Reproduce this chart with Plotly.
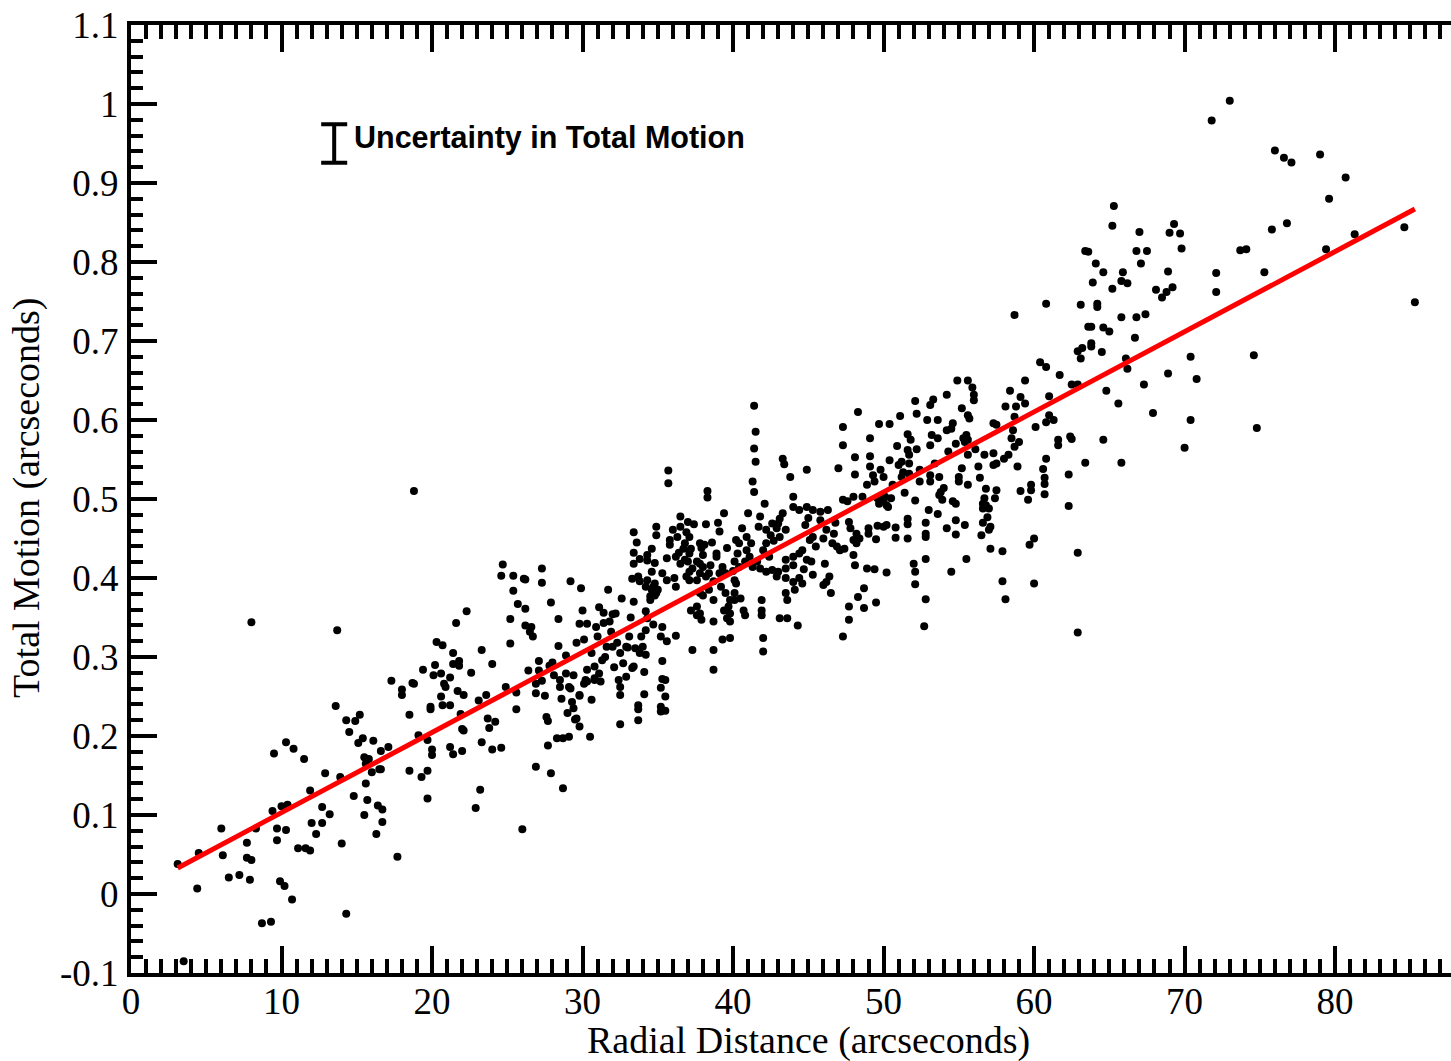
import plotly.graph_objects as go

# ---- data (arcseconds) ----
radial_a = [8.0, 13.7, 17.3, 13.6, 14.3, 14.9, 15.2, 14.5, 15.1, 15.4, 16.1, 16.6, 17.1, 15.5, 15.8, 15.6, 16.0, 16.5, 16.6,
            15.6, 17.7, 14.8, 15.7, 16.4, 16.7, 16.7, 16.3, 15.5, 14.0, 14.3, 13.9, 12.9, 11.9, 12.7, 13.2, 12.7, 12.0, 12.3,
            11.1, 11.6, 11.9, 9.5, 10.3, 10.8, 11.5, 9.4, 10.0, 10.4, 9.7, 10.3, 9.7, 8.3, 9.9, 10.2, 10.7, 8.7, 9.3, 6.0,
            7.7, 6.1, 7.7, 8.0, 6.5, 7.2, 7.9, 4.5, 3.1, 4.4, 3.5]
motion_a = [0.344, 0.334, 0.270, 0.238, 0.220, 0.219, 0.227, 0.205, 0.191, 0.197, 0.194, 0.181, 0.186, 0.173, 0.171, 0.165, 0.154, 0.158, 0.158,
            0.140, 0.047, 0.124, 0.119, 0.112, 0.107, 0.091, 0.076, 0.100, 0.064, -0.025, 0.148, 0.153, 0.131, 0.110, 0.101, 0.090, 0.090, 0.076,
            0.058, 0.058, 0.055, 0.178, 0.192, 0.184, 0.171, 0.105, 0.111, 0.113, 0.083, 0.081, 0.068, 0.083, 0.016, 0.010, -0.007, -0.037, -0.035, 0.083,
            0.065, 0.049, 0.046, 0.043, 0.021, 0.024, 0.018, 0.052, 0.038, 0.007, -0.085]

radial_b = [18.8, 24.7, 24.6, 25.4, 26.1, 26.2, 27.3, 27.3, 25.4, 25.7, 26.2, 25.2, 26.2, 26.6, 26.5, 26.7, 25.2, 27.9, 29.2, 29.9, 31.7,
            28.4, 30.0, 29.8, 30.3, 31.1, 31.4, 32.0, 32.2, 31.4, 31.8, 32.6,
            33.4, 33.4, 33.8, 34.3, 34.6, 34.3, 33.4, 34.9, 34.9, 34.8,
            33.3, 33.7, 34.3, 33.8, 34.2, 34.7, 34.8, 34.5, 34.9,
            33.2, 34.2, 34.7, 34.2, 33.9, 33.1, 33.5, 33.8, 34.2, 33.0, 32.5, 32.0, 31.6, 31.0, 30.6, 30.1,
            30.3, 30.8, 31.1, 31.2, 30.8, 30.3, 29.4, 28.9, 28.5, 29.2, 29.8, 30.6,
            32.4, 32.5, 32.5, 32.9, 33.3, 34.1, 34.1, 33.7, 33.7, 33.7, 32.5,
            28.6, 29.3, 29.4, 29.6, 29.8, 29.5, 30.5, 29.1, 28.7, 28.3, 27.7, 27.6, 27.7,
            26.9, 27.9, 28.7, 22.9, 23.2,
            27.1, 27.1, 27.8, 28.1, 27.3, 26.9, 26.9, 28.9, 28.4, 29.1, 28.5, 29.8, 30.1, 30.2, 30.8,
            25.6, 25.6, 24.0, 23.3, 23.6, 23.7, 23.8, 24.2, 23.3, 24.0, 24.6, 22.3, 21.6, 20.3, 20.7, 21.4, 21.8, 21.8, 21.4,
            22.6, 21.2, 20.6, 20.1, 20.2, 19.4, 18.7, 18.0, 18.0, 18.5, 19.9, 19.9, 20.6, 20.7, 21.2, 21.7, 22.1, 20.8, 22.0,
            22.1, 19.7, 20.0, 20.0, 21.2, 21.4, 22.0, 18.5, 19.3, 19.7, 19.7, 26.0, 18.8,
            35.2, 35.5, 35.2, 35.5, 35.2, 35.3, 35.5, 35.3,
            34.6, 35.0, 34.8, 34.5, 33.4, 34.3, 32.9, 34.0, 32.7, 33.4,
            31.9, 32.3, 30.9, 31.5, 29.6, 28.0, 26.4, 24.9, 23.1, 21.9, 20.9, 19.1, 33.6, 34.6, 32.1, 31.3, 29.0, 27.5]
motion_b = [0.510, 0.417, 0.403, 0.403, 0.399, 0.398, 0.412, 0.394, 0.384, 0.367, 0.361, 0.348, 0.340, 0.338, 0.332, 0.326, 0.317, 0.369, 0.396, 0.387, 0.385,
            0.348, 0.359, 0.342, 0.342, 0.363, 0.356, 0.354, 0.355, 0.343, 0.345, 0.374,
            0.458, 0.432, 0.424, 0.429, 0.437, 0.422, 0.418, 0.465, 0.454, 0.419,
            0.399, 0.402, 0.397, 0.396, 0.389, 0.389, 0.378, 0.372, 0.381,
            0.350, 0.358, 0.341, 0.334, 0.326, 0.326, 0.311, 0.305, 0.303, 0.312, 0.305, 0.313, 0.313, 0.326, 0.305, 0.322,
            0.284, 0.288, 0.279, 0.269, 0.271, 0.269, 0.277, 0.279, 0.271, 0.260, 0.252, 0.246,
            0.271, 0.262, 0.252, 0.275, 0.286, 0.281, 0.253, 0.239, 0.234, 0.220, 0.215,
            0.247, 0.243, 0.235, 0.222, 0.212, 0.221, 0.199, 0.199, 0.197, 0.197, 0.188, 0.224, 0.219,
            0.161, 0.153, 0.134, 0.109, 0.132,
            0.295, 0.283, 0.289, 0.277, 0.270, 0.266, 0.254, 0.302, 0.314, 0.262, 0.262, 0.251, 0.266, 0.271, 0.273,
            0.255, 0.234, 0.291, 0.309, 0.252, 0.222, 0.210, 0.218, 0.192, 0.183, 0.185, 0.358, 0.343, 0.319, 0.315, 0.305, 0.295, 0.289, 0.291,
            0.280, 0.274, 0.279, 0.277, 0.290, 0.284, 0.267, 0.259, 0.252, 0.227, 0.237, 0.234, 0.250, 0.239, 0.239, 0.257, 0.252, 0.266, 0.209,
            0.207, 0.195, 0.183, 0.176, 0.186, 0.177, 0.181, 0.156, 0.148, 0.156, 0.121, 0.082, 0.266,
            0.231, 0.232, 0.237, 0.250, 0.261, 0.272, 0.271, 0.295,
            0.385, 0.385, 0.393, 0.377, 0.370, 0.349, 0.313, 0.313, 0.292, 0.288,
            0.332, 0.318, 0.338, 0.300, 0.318, 0.293, 0.283, 0.262, 0.245, 0.228, 0.262, 0.201, 0.445, 0.408, 0.287, 0.296, 0.229, 0.251]

radial_c = [41.4, 41.5, 41.4, 41.5, 41.3, 41.4, 35.7, 35.7, 38.3, 38.3, 43.3, 43.4, 43.8, 44.9, 47.0, 47.3, 47.3, 48.1, 48.3, 48.1,
            36.5, 37.0, 37.4, 38.2, 39.0, 39.4, 39.1, 36.5,
            35.8, 35.8, 36.3, 36.8, 37.1, 36.7, 37.2, 37.8, 38.1, 37.9,
            35.6, 36.2, 36.5, 36.8, 37.1, 37.0, 37.6, 38.0, 37.8, 38.9, 38.9, 38.5, 38.0, 37.3, 39.3, 39.5, 39.1, 38.4, 37.8, 37.1,
            36.9, 37.6, 37.1, 38.2, 38.7,
            35.3, 36.1, 35.6, 36.2, 37.8, 38.0, 38.4, 38.7, 37.6, 37.8, 37.9, 37.6, 38.7, 37.2, 37.3, 38.7, 38.7, 39.3, 39.8, 39.5,
            39.8, 39.7, 39.4, 39.8, 39.6, 39.8, 40.1, 40.1, 40.5, 40.7, 40.8, 40.2, 40.1,
            40.2, 40.4, 40.9, 41.2, 40.9, 40.3, 41.1, 40.8, 40.1, 40.4, 41.3, 41.6, 41.8, 42.2, 42.6, 42.4, 42.0, 42.2, 41.7, 41.0,
            42.2, 42.6, 43.0, 43.1, 43.3, 42.9, 42.5, 43.1, 43.5,
            42.1, 44.0, 44.4, 44.9, 45.3, 45.8, 46.3, 44.0, 44.8, 45.3, 45.8, 46.2, 46.7, 47.3, 47.6, 48.0, 47.7, 47.8, 48.2, 48.4,
            48.0, 47.1, 47.4, 46.6, 46.9, 46.0, 45.5, 45.1, 44.6, 44.4, 44.9, 45.2, 44.0, 43.5, 44.0, 43.5, 43.0, 42.9, 43.5, 44.0,
            44.4, 44.6, 45.3, 46.0, 46.4, 46.5, 46.2, 43.5, 43.6, 44.1, 43.1, 43.6, 44.3, 41.9, 41.9, 41.9, 42.0, 42.0, 47.7, 47.7,
            47.3, 48.3, 48.1, 48.0, 48.2, 35.3, 35.2, 35.6, 36.2,
            36.0, 36.9, 39.6, 40.6, 41.8, 42.7, 45.0, 46.8, 39.2, 40.0, 36.4, 38.6, 44.7, 46.1]
motion_c = [0.618, 0.585, 0.564, 0.547, 0.522, 0.509, 0.536, 0.520, 0.510, 0.502, 0.551, 0.544, 0.528, 0.537, 0.539, 0.591, 0.568, 0.553, 0.610, 0.531,
            0.478, 0.471, 0.468, 0.468, 0.470, 0.482, 0.459, 0.465,
            0.448, 0.442, 0.452, 0.444, 0.452, 0.437, 0.437, 0.444, 0.442, 0.438,
            0.425, 0.427, 0.418, 0.423, 0.431, 0.421, 0.421, 0.429, 0.418, 0.431, 0.427, 0.416, 0.414, 0.412, 0.414, 0.406, 0.406, 0.406, 0.406, 0.408,
            0.402, 0.397, 0.397, 0.402, 0.396,
            0.406, 0.400, 0.397, 0.389, 0.381, 0.378, 0.385, 0.372, 0.364, 0.355, 0.347, 0.353, 0.345, 0.359, 0.309, 0.309, 0.284, 0.322, 0.324, 0.381,
            0.372, 0.364, 0.359, 0.355, 0.349, 0.345, 0.381, 0.372, 0.374, 0.359, 0.353, 0.393, 0.397,
            0.448, 0.444, 0.452, 0.444, 0.435, 0.431, 0.427, 0.421, 0.421, 0.414, 0.414, 0.421, 0.412, 0.408, 0.410, 0.427, 0.435, 0.444, 0.465, 0.482,
            0.461, 0.469, 0.469, 0.475, 0.482, 0.463, 0.454, 0.452, 0.461,
            0.494, 0.503, 0.486, 0.490, 0.486, 0.484, 0.486, 0.490, 0.467, 0.452, 0.473, 0.461, 0.456, 0.499, 0.497, 0.503, 0.471, 0.463, 0.456, 0.450,
            0.448, 0.435, 0.437, 0.444, 0.440, 0.450, 0.440, 0.448, 0.435, 0.431, 0.423, 0.421, 0.427, 0.423, 0.416, 0.412, 0.408, 0.402, 0.400, 0.395,
            0.400, 0.393, 0.404, 0.391, 0.402, 0.381, 0.395, 0.381, 0.372, 0.385, 0.349, 0.349, 0.340, 0.372, 0.359, 0.353, 0.324, 0.307, 0.364, 0.347,
            0.326, 0.376, 0.416, 0.429, 0.444, 0.338, 0.326, 0.320, 0.327,
            0.461, 0.458, 0.438, 0.463, 0.478, 0.447, 0.476, 0.470, 0.389, 0.409, 0.432, 0.445, 0.411, 0.418]

radial_d = [54.9, 55.6, 55.9, 56.0, 56.0, 54.2, 53.3, 53.1, 52.1, 52.2, 51.1, 50.4, 49.7, 49.1, 50.9, 51.6, 51.8, 51.6, 51.7, 52.2,
            53.1, 52.9, 53.6, 53.2, 53.6, 54.2, 54.5, 54.6, 54.3, 54.8, 55.3, 55.5, 55.6, 55.4, 55.6, 55.7, 55.6, 55.2, 56.1, 56.7,
            57.3, 57.3, 57.5, 58.1, 58.4, 58.8, 59.1, 59.4, 59.4, 58.7, 58.6, 58.5, 59.0, 58.7, 58.3, 58.0, 57.3, 57.5, 56.3, 60.1,
            49.1, 49.1, 49.3, 49.8, 50.0, 49.4, 50.4, 51.0, 51.2, 51.7, 51.3, 51.2, 51.7, 52.4, 52.4, 53.1, 53.1, 53.7, 55.0, 55.0,
            55.6, 56.8, 57.5, 57.4, 56.7, 56.6, 56.8, 57.0, 56.6,
            48.6, 49.6, 50.0, 50.2, 49.7, 50.1, 50.5, 50.3, 52.1, 53.6, 54.6, 54.8, 53.8, 53.7, 53.9,
            54.8, 54.2, 54.8, 55.4, 56.6, 56.9, 57.1, 57.0, 56.5, 57.1, 57.9, 55.5, 54.5, 52.8, 52.0, 52.1, 52.1, 52.8, 52.7, 57.9,
            58.1, 59.7, 60.0, 59.8, 59.8, 59.6, 59.1, 60.0, 50.0, 49.6, 49.0, 49.0, 49.5, 50.2, 50.8, 50.8, 51.6, 51.6, 51.6, 52.8,
            52.8, 52.8, 48.9, 49.4, 50.2, 48.7, 48.7, 49.5, 58.7, 48.9,
            50.6, 53.4, 54.0, 56.4, 58.9, 51.4, 53.0, 55.2]
motion_d = [0.650, 0.650, 0.641, 0.632, 0.625, 0.632, 0.626, 0.619, 0.624, 0.608, 0.605, 0.595, 0.595, 0.577, 0.567, 0.582, 0.575, 0.562, 0.556, 0.563,
            0.568, 0.600, 0.600, 0.581, 0.577, 0.587, 0.589, 0.596, 0.560, 0.570, 0.577, 0.581, 0.575, 0.572, 0.556, 0.602, 0.606, 0.615, 0.563, 0.556,
            0.558, 0.596, 0.594, 0.617, 0.637, 0.617, 0.629, 0.650, 0.621, 0.604, 0.587, 0.577, 0.572, 0.566, 0.556, 0.551, 0.543, 0.545, 0.541, 0.591,
            0.554, 0.541, 0.530, 0.537, 0.528, 0.522, 0.549, 0.543, 0.547, 0.545, 0.534, 0.528, 0.532, 0.537, 0.522, 0.522, 0.530, 0.528, 0.528, 0.522,
            0.518, 0.513, 0.511, 0.501, 0.501, 0.494, 0.492, 0.488, 0.488,
            0.503, 0.501, 0.499, 0.492, 0.494, 0.503, 0.501, 0.490, 0.498, 0.481, 0.497, 0.494, 0.509, 0.505, 0.499,
            0.473, 0.463, 0.455, 0.467, 0.470, 0.477, 0.465, 0.461, 0.454, 0.437, 0.434, 0.424, 0.408, 0.424, 0.418, 0.408, 0.392, 0.373, 0.339, 0.396,
            0.373, 0.442, 0.450, 0.518, 0.511, 0.499, 0.510, 0.393, 0.465, 0.466, 0.463, 0.456, 0.449, 0.467, 0.464, 0.451, 0.475, 0.468, 0.450, 0.470,
            0.456, 0.452, 0.412, 0.411, 0.407, 0.387, 0.362, 0.369, 0.733, 0.518,
            0.518, 0.545, 0.514, 0.527, 0.541, 0.508, 0.486, 0.539]

radial_e = [65.3, 65.2, 67.0, 69.3, 69.0, 69.7, 69.8, 66.8, 67.5, 67.1, 63.4, 63.6, 64.1, 64.6, 63.9, 65.9, 65.8, 66.2, 65.2, 68.9,
            68.1, 68.8, 68.5, 69.2, 72.1, 72.1, 64.2, 64.2, 63.1, 60.8, 65.8, 66.8, 67.4, 63.6, 63.8, 64.6, 65.0, 66.7, 63.8, 63.8,
            62.9, 63.2, 63.1, 64.5, 66.1, 66.2, 60.4, 60.8, 61.7, 62.5, 62.9, 64.8, 67.3, 68.9, 70.4, 70.8, 65.6, 67.9, 70.4, 70.0,
            61.0, 61.0, 61.3, 60.8, 61.6, 61.6, 62.4, 62.5, 64.6, 60.8, 60.6, 60.7, 60.7, 60.7, 62.3, 63.4, 65.8, 62.3, 62.9, 62.9,
            73.0, 71.8, 76.0, 76.6, 77.1, 79.0, 80.7, 79.6, 76.8, 75.8, 81.3, 79.4, 84.6, 85.3, 73.7, 74.1, 75.3, 74.6, 74.8]
motion_e = [0.871, 0.846, 0.838, 0.848, 0.837, 0.836, 0.817, 0.814, 0.814, 0.798, 0.814, 0.813, 0.798, 0.787, 0.774, 0.787, 0.776, 0.773, 0.766, 0.788,
            0.765, 0.762, 0.755, 0.768, 0.786, 0.762, 0.747, 0.743, 0.746, 0.747, 0.730, 0.730, 0.734, 0.718, 0.718, 0.717, 0.712, 0.704, 0.697, 0.693,
            0.687, 0.691, 0.678, 0.686, 0.678, 0.665, 0.673, 0.667, 0.657, 0.645, 0.645, 0.637, 0.645, 0.659, 0.680, 0.652, 0.621, 0.609, 0.600, 0.565,
            0.630, 0.606, 0.600, 0.597, 0.575, 0.568, 0.579, 0.576, 0.575, 0.551, 0.538, 0.527, 0.519, 0.506, 0.531, 0.546, 0.546, 0.491, 0.432, 0.331,
            1.004, 0.979, 0.941, 0.932, 0.926, 0.936, 0.907, 0.880, 0.849, 0.841, 0.835, 0.816, 0.844, 0.749, 0.815, 0.816, 0.787, 0.682, 0.590]

fit_radial = [3.1, 85.3]
fit_motion = [0.033, 0.867]

uncert_x = [13.5]
uncert_y = [0.950]
uncert_err = [0.0245]

x_tick_vals = [0, 10, 20, 30, 40, 50, 60, 70, 80]
x_tick_text = ["0", "10", "20", "30", "40", "50", "60", "70", "80"]
y_tick_vals = [-0.1, 0.0, 0.1, 0.2, 0.3, 0.4, 0.5, 0.6, 0.7, 0.8, 0.9, 1.0, 1.1]
y_tick_text = ["-0.1", "0", "0.1", "0.2", "0.3", "0.4", "0.5", "0.6", "0.7", "0.8", "0.9", "1", "1.1"]

radial = radial_a + radial_b + radial_c + radial_d + radial_e
motion = motion_a + motion_b + motion_c + motion_d + motion_e

serif = "Liberation Serif"

fig = go.Figure()
fig.add_trace(go.Scatter(x=radial, y=motion, mode="markers",
                         marker=dict(color="black", size=8, line=dict(width=0)),
                         hoverinfo="skip"))
fig.add_trace(go.Scatter(x=fit_radial, y=fit_motion, mode="lines",
                         line=dict(color="#ff0000", width=5), hoverinfo="skip"))
fig.add_trace(go.Scatter(x=uncert_x, y=uncert_y, mode="markers",
                         marker=dict(size=1, color="rgba(0,0,0,0)"),
                         error_y=dict(type="data", array=uncert_err, visible=True,
                                      color="black", thickness=4, width=13),
                         hoverinfo="skip"))

fig.add_annotation(x=14.7, y=0.957, xref="x", yref="y", text="<b>Uncertainty in Total Motion</b>",
                   showarrow=False, xanchor="left", yanchor="middle",
                   font=dict(family="Liberation Sans", size=30.5, color="black"))

# axis titles placed as paper-referenced annotations for exact placement
fig.add_annotation(x=0.5136, y=-0.0707, xref="paper", yref="paper", text="Radial Distance (arcseconds)",
                   showarrow=False, xanchor="center", yanchor="middle",
                   font=dict(family=serif, size=38, color="black"))
fig.add_annotation(x=-0.0796, y=0.501, xref="paper", yref="paper", text="Total Motion (arcseconds)",
                   showarrow=False, xanchor="center", yanchor="middle", textangle=-90,
                   font=dict(family=serif, size=38, color="black"))

axis_common = dict(showgrid=False, zeroline=False, showline=True, linecolor="black", linewidth=4,
                   ticks="inside", tickcolor="black", tickwidth=4, automargin=False,
                   tickfont=dict(family=serif, size=37, color="black"))

fig.update_layout(
    width=1451, height=1061,
    margin=dict(l=131, r=0, t=25, b=88, autoexpand=False),
    paper_bgcolor="white", plot_bgcolor="white",
    showlegend=False,
    xaxis=dict(range=[0, 87.7], tickmode="array", tickvals=x_tick_vals, ticktext=x_tick_text,
               ticklen=27, mirror="ticks", ticklabelstandoff=-7,
               minor=dict(dtick=1, tick0=0, ticklen=14, tickwidth=4, tickcolor="black", ticks="inside", showgrid=False),
               **axis_common),
    yaxis=dict(range=[-0.1, 1.1], tickmode="array", tickvals=y_tick_vals, ticktext=y_tick_text,
               ticklen=26, mirror=False, ticklabelstandoff=1,
               minor=dict(dtick=0.02, tick0=0, ticklen=12, tickwidth=4, tickcolor="black", ticks="inside", showgrid=False),
               **axis_common),
)

# remove the browser's default page margin so the figure sits at the window's corner
fig.write_html("out.html", config={"displayModeBar": False},
               post_script="document.body.style.margin='0';")
